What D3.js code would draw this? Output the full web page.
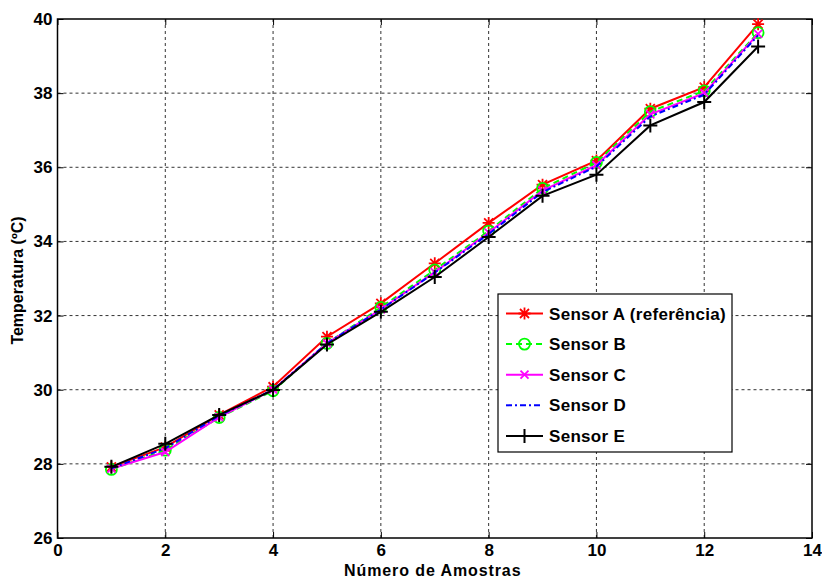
<!DOCTYPE html>
<html>
<head>
<meta charset="utf-8">
<script src="https://cdn.jsdelivr.net/npm/d3@7"></script>
<style>
  body { margin: 0; background: #fff; }
  svg text { font-family: "Liberation Sans", Arial, sans-serif; font-weight: bold; }
</style>
</head>
<body>
<div id="chart"></div>
<script>
// data
const amostras = [1, 2, 3, 4, 5, 6, 7, 8, 9, 10, 11, 12, 13];
const sensorA = [27.92, 28.45, 29.32, 30.08, 31.43, 32.33, 33.41, 34.5, 35.53, 36.18, 37.58, 38.16, 39.86];
const sensorB = [27.85, 28.37, 29.25, 29.97, 31.25, 32.22, 33.23, 34.28, 35.43, 36.13, 37.5, 38.06, 39.63];
const sensorC = [27.87, 28.32, 29.26, 30.0, 31.25, 32.17, 33.17, 34.24, 35.37, 36.06, 37.43, 38.0, 39.6];
const sensorD = [27.88, 28.42, 29.3, 30.0, 31.25, 32.16, 33.16, 34.2, 35.33, 36.02, 37.37, 37.96, 39.56];
const sensorE = [27.92, 28.54, 29.32, 29.99, 31.22, 32.1, 33.04, 34.12, 35.23, 35.8, 37.13, 37.76, 39.26];
const seriesNames = ["Sensor A (referência)", "Sensor B", "Sensor C", "Sensor D", "Sensor E"];
const xTicks = [0, 2, 4, 6, 8, 10, 12, 14];
const yTicks = [26, 28, 30, 32, 34, 36, 38, 40];

const width = 822, height = 578;
const margin = { top: 19, right: 10, bottom: 40, left: 57.5 };
const mwidth = width - margin.left - margin.right;
const mheight = height - margin.top - margin.bottom;

const svg = d3.select("#chart").append("svg")
    .attr("width", width)
    .attr("height", height);

const xScale = d3.scaleLinear().domain([0, 14]).range([0, mwidth]);
const yScale = d3.scaleLinear().domain([26, 40]).range([mheight, 0]);

const g = svg.append("g")
    .attr("transform", "translate(" + margin.left + "," + margin.top + ")");

// grid
g.append("g").selectAll("line.gx")
    .data(xTicks.slice(1, -1)).join("line")
    .attr("x1", d => xScale(d)).attr("x2", d => xScale(d))
    .attr("y1", 0).attr("y2", mheight)
    .attr("stroke", "#333").attr("stroke-width", 1).attr("stroke-dasharray", "3,3");
g.append("g").selectAll("line.gy")
    .data(yTicks.slice(1, -1)).join("line")
    .attr("x1", 0).attr("x2", mwidth)
    .attr("y1", d => yScale(d)).attr("y2", d => yScale(d))
    .attr("stroke", "#333").attr("stroke-width", 1).attr("stroke-dasharray", "3,3");

// axes, ticks inward
const xAxis = d3.axisBottom(xScale).tickValues(xTicks).tickSizeInner(-6).tickSizeOuter(0).tickPadding(6);
const yAxis = d3.axisLeft(yScale).tickValues(yTicks).tickSizeInner(-6).tickSizeOuter(0).tickPadding(5);

function customAxis(a) {
    a.select(".domain").remove();
    a.selectAll(".tick line").attr("stroke", "#000");
    a.selectAll(".tick text")
        .attr("fill", "#000")
        .style("font-family", "'Liberation Sans', Arial, sans-serif")
        .style("font-weight", "bold")
        .style("font-size", "17px");
}

g.append("g").attr("transform", "translate(0," + mheight + ")").call(xAxis).call(customAxis);
g.append("g").call(yAxis).call(customAxis);
g.append("g").call(d3.axisTop(xScale).tickValues(xTicks).tickSizeInner(-6).tickSizeOuter(0).tickFormat(""))
    .call(customAxis);
g.append("g").attr("transform", "translate(" + mwidth + ",0)")
    .call(d3.axisRight(yScale).tickValues(yTicks).tickSizeInner(-6).tickSizeOuter(0).tickFormat(""))
    .call(customAxis);

g.append("rect")
    .attr("width", mwidth).attr("height", mheight)
    .attr("fill", "none").attr("stroke", "#000").attr("stroke-width", 1.5);

// series
const series = [
    { name: seriesNames[0], values: sensorA, color: "#ff0000", dash: null, marker: "star" },
    { name: seriesNames[1], values: sensorB, color: "#00ff00", dash: "6,4", marker: "circle" },
    { name: seriesNames[2], values: sensorC, color: "#ff00ff", dash: null, marker: "x" },
    { name: seriesNames[3], values: sensorD, color: "#0000ff", dash: "6,3,2,3", marker: null },
    { name: seriesNames[4], values: sensorE, color: "#000000", dash: null, marker: "plus" }
];

const line = d3.line()
    .x((d, i) => xScale(amostras[i]))
    .y(d => yScale(d));

function drawMarker(sel, type, color) {
    const s = 6;
    if (type === "circle") {
        sel.append("circle").attr("r", 5.5).attr("fill", "none").attr("stroke", color).attr("stroke-width", 1.8);
    } else if (type === "x") {
        sel.append("path").attr("d", `M-4,-4L4,4M-4,4L4,-4`).attr("stroke", color).attr("stroke-width", 1.8);
    } else if (type === "plus") {
        sel.append("path").attr("d", `M-7,0L7,0M0,-7L0,7`).attr("stroke", color).attr("stroke-width", 2);
    } else if (type === "star") {
        sel.append("path").attr("d", `M-${s},0L${s},0M0,-${s}L0,${s}M-4.5,-4.5L4.5,4.5M-4.5,4.5L4.5,-4.5`)
            .attr("stroke", color).attr("stroke-width", 1.8);
    }
}

series.forEach(sr => {
    g.append("path")
        .datum(sr.values)
        .attr("d", line)
        .attr("fill", "none")
        .attr("stroke", sr.color)
        .attr("stroke-width", 2)
        .attr("stroke-dasharray", sr.dash);
    if (sr.marker) {
        g.append("g").selectAll("g")
            .data(sr.values).join("g")
            .attr("transform", (d, i) => "translate(" + xScale(amostras[i]) + "," + yScale(d) + ")")
            .each(function () { drawMarker(d3.select(this), sr.marker, sr.color); });
    }
});

// axis labels
svg.append("text")
    .attr("x", margin.left + mwidth / 2 - 2)
    .attr("y", height - 2)
    .attr("text-anchor", "middle")
    .style("font-size", "16px")
    .style("letter-spacing", "0.9px")
    .text("Número de Amostras");

svg.append("text")
    .attr("transform", "translate(23," + (margin.top + mheight / 2 + 2) + ") rotate(-90)")
    .attr("text-anchor", "middle")
    .style("font-size", "16px")
    .text("Temperatura (ºC)");

// legend
const legend = svg.append("g").attr("transform", "translate(498,294)");
legend.append("rect")
    .attr("width", 234).attr("height", 158)
    .attr("fill", "#fff").attr("stroke", "#000").attr("stroke-width", 1.2);

series.forEach((sr, i) => {
    const row = legend.append("g").attr("transform", "translate(0," + (19.5 + i * 30.6) + ")");
    row.append("line")
        .attr("x1", 8).attr("x2", 45)
        .attr("stroke", sr.color).attr("stroke-width", 2)
        .attr("stroke-dasharray", sr.dash);
    if (sr.marker) {
        const m = row.append("g").attr("transform", "translate(26.5,0)");
        drawMarker(m, sr.marker, sr.color);
    }
    row.append("text")
        .attr("x", 51).attr("y", 6)
        .style("font-size", "17px")
        .style("letter-spacing", "0.3px")
        .text(sr.name);
});
</script>
</body>
</html>
